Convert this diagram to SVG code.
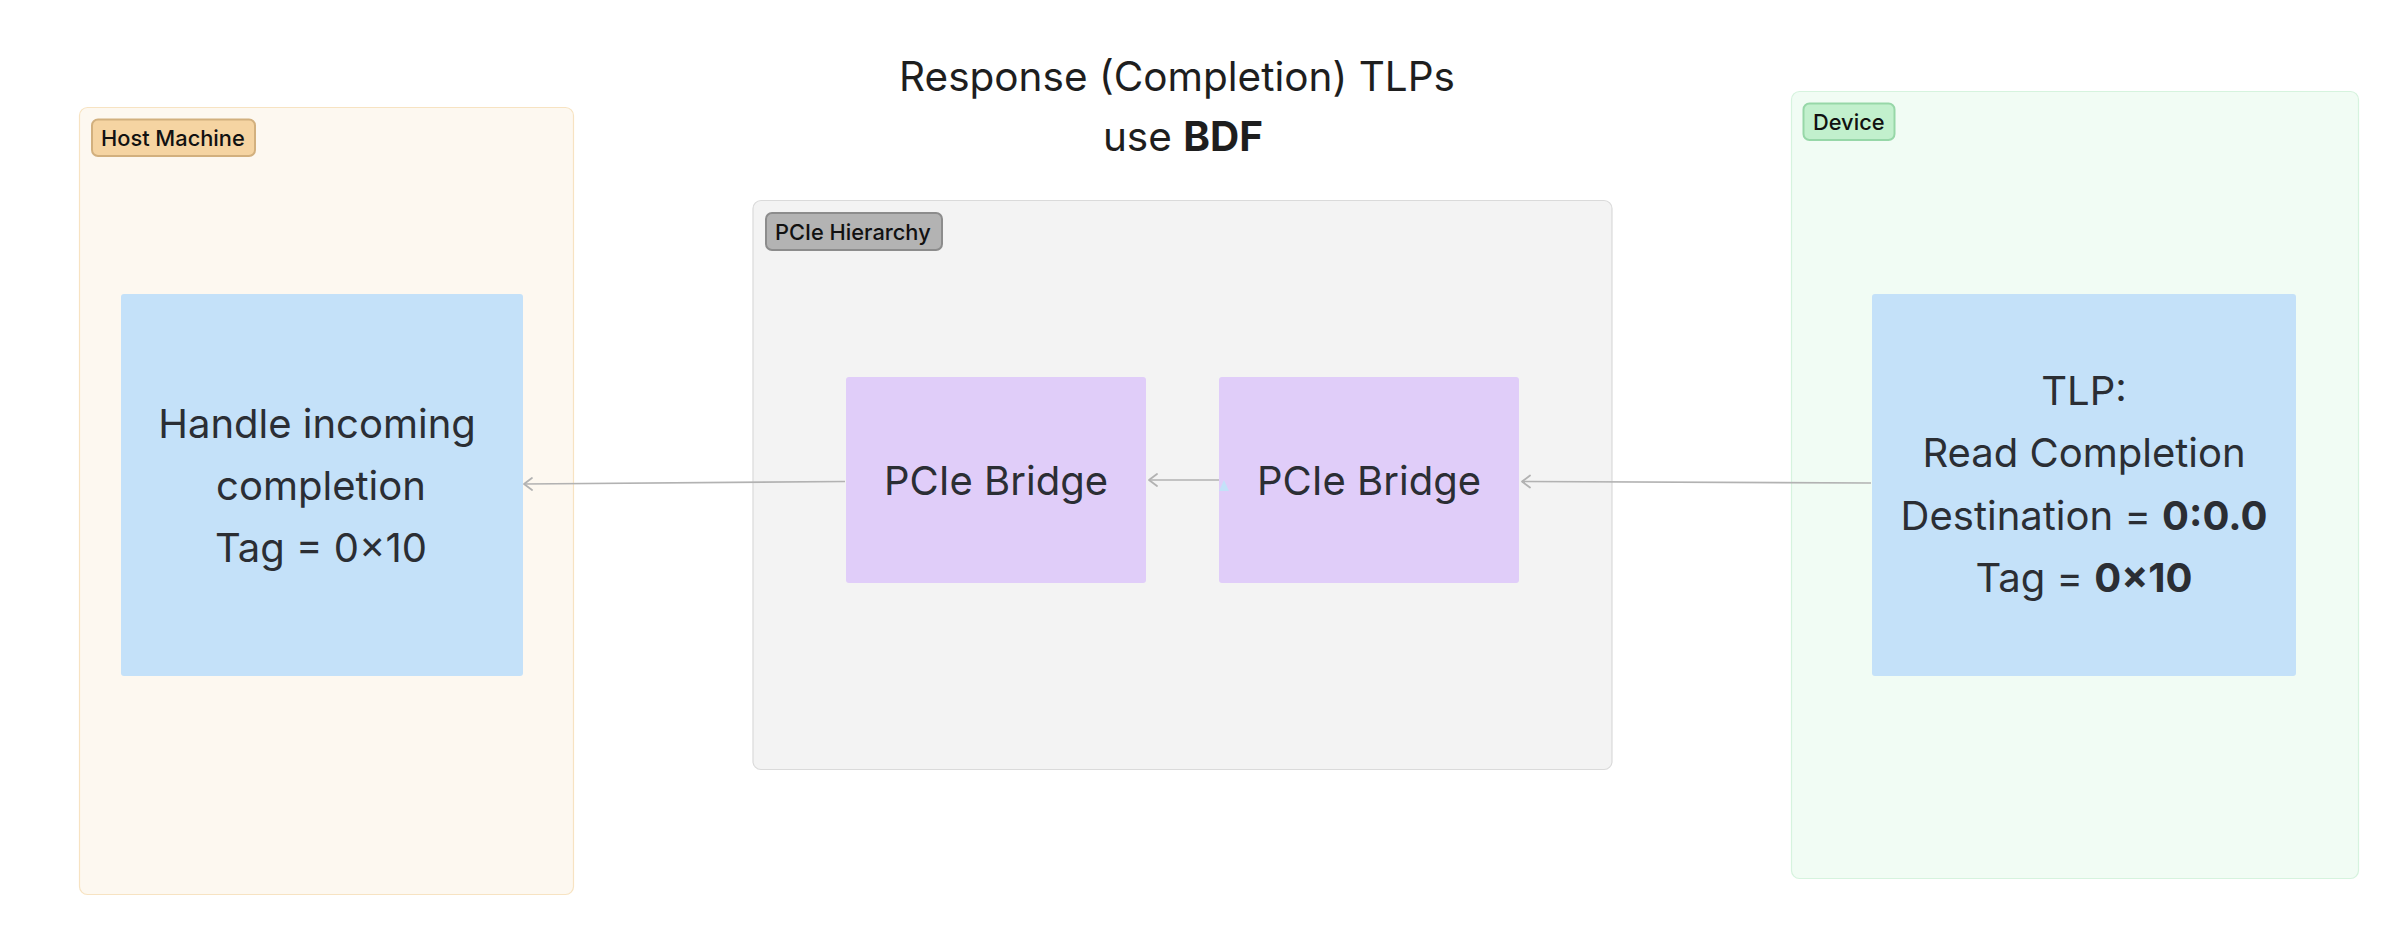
<svg xmlns="http://www.w3.org/2000/svg" width="2404" height="936" viewBox="0 0 2404 936">
  <style>
    text { font-family: Inter, "Noto Sans", "Liberation Sans", sans-serif; }
    .title { font-size: 40.5px; fill: #1e1e1e; text-anchor: middle; }
    .node-text { font-size: 40px; fill: #2b2e34; text-anchor: middle; }
    .pill-text { font-size: 21.8px; font-weight: 500; fill: #111111; }
    .b { font-weight: 700; }
    .edge { stroke: #b2b2b2; stroke-width: 1.6; fill: none; marker-end: url(#chevron); }
  </style>
  <defs>
    <marker id="chevron" markerUnits="userSpaceOnUse" markerWidth="20" markerHeight="20" viewBox="-10 -10 20 20" refX="0" refY="0" orient="auto">
      <path d="M-8,-6 L0,0 L-8,6" fill="none" stroke="#b2b2b2" stroke-width="1.8" stroke-linejoin="round" stroke-linecap="round"/>
    </marker>
  </defs>

  <rect width="2404" height="936" fill="#ffffff"/>

  <!-- Title -->
  <g id="title">
    <text class="title" x="1177" y="91">Response (Completion) TLPs</text>
    <text class="title" x="1183" y="151">use <tspan class="b">BDF</tspan></text>
  </g>

  <!-- Host Machine group -->
  <g id="host-machine">
    <rect x="79.5" y="107.5" width="494" height="787" rx="8" fill="#fdf8f0" stroke="#f7e3c2" stroke-width="1.2"/>
    <rect x="92" y="119.5" width="163" height="36.5" rx="6" fill="#f5d4a2" stroke="#d2b07e" stroke-width="2"/>
    <text class="pill-text" x="101" y="146">Host Machine</text>
  </g>

  <!-- PCIe Hierarchy group -->
  <g id="pcie-hierarchy">
    <rect x="753" y="200.5" width="859" height="569" rx="8" fill="#f3f3f3" stroke="#dadada" stroke-width="1.2"/>
    <rect x="766" y="213" width="176" height="37" rx="6" fill="#b3b3b3" stroke="#8c8c8c" stroke-width="2"/>
    <text class="pill-text" x="775" y="240">PCIe Hierarchy</text>
  </g>

  <!-- Device group -->
  <g id="device">
    <rect x="1791.5" y="91.5" width="567" height="787" rx="8" fill="#f1fcf4" stroke="#d6f3de" stroke-width="1.2"/>
    <rect x="1803.5" y="103.5" width="91" height="36.5" rx="6" fill="#c2f0cd" stroke="#97d7a8" stroke-width="2"/>
    <text class="pill-text" x="1813" y="130">Device</text>
  </g>

  <!-- Host handler node -->
  <g id="host-handler">
    <rect x="121" y="294" width="402" height="382" rx="3" fill="#c4e1f9"/>
    <text class="node-text" x="317" y="438">Handle incoming</text>
    <text class="node-text" x="321" y="500">completion</text>
    <text class="node-text" x="321" y="562">Tag = 0×10</text>
  </g>

  <!-- Upstream bridge -->
  <g id="bridge-1">
    <rect x="846" y="377" width="300" height="206" rx="3" fill="#e0cdf9"/>
    <text class="node-text" x="996" y="495">PCIe Bridge</text>
  </g>

  <!-- Downstream bridge -->
  <g id="bridge-2">
    <rect x="1219" y="377" width="300" height="206" rx="3" fill="#e0cdf9"/>
    <text class="node-text" x="1369" y="495">PCIe Bridge</text>
  </g>

  <!-- Device TLP node -->
  <g id="device-tlp">
    <rect x="1872" y="294" width="424" height="382" rx="3" fill="#c4e1f9"/>
    <text class="node-text" x="2084" y="405">TLP:</text>
    <text class="node-text" x="2084" y="467">Read Completion</text>
    <text class="node-text" x="2084" y="530">Destination = <tspan class="b">0:0.0</tspan></text>
    <text class="node-text" x="2084" y="592">Tag = <tspan class="b">0×10</tspan></text>
  </g>

  <!-- Connectors -->
  <g id="connectors">
    <path class="edge" d="M1871,483 L1522,481.5"/>
    <path class="edge" d="M1219,480 L1149,480"/>
    <polygon points="1224,480 1229,491 1219,491" fill="#c4e1f9"/>
    <path class="edge" d="M845,481.5 L524,484"/>
  </g>
</svg>
